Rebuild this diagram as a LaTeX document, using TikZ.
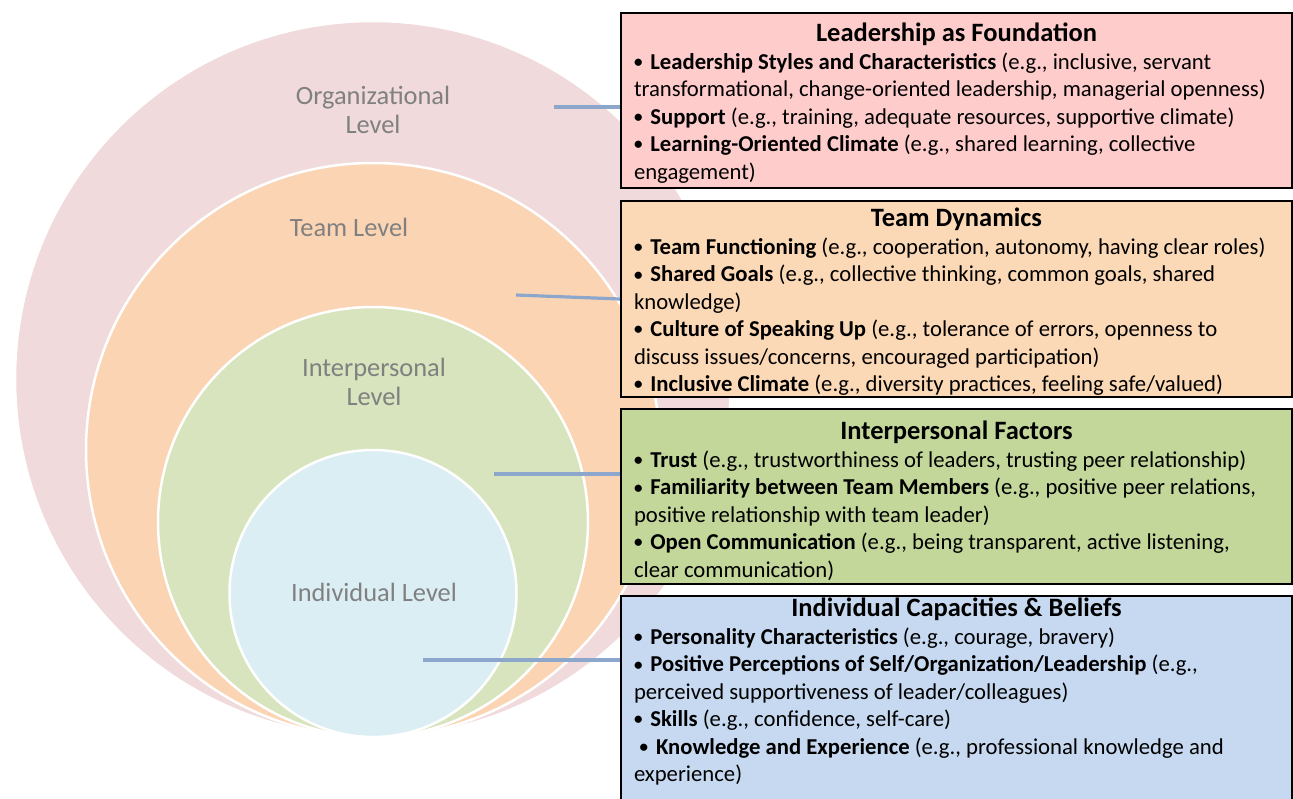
\documentclass[tikz,border=0pt]{standalone}
\usepackage{fontspec}
\setmainfont{Carlito}

\definecolor{orgfill}{RGB}{240,218,219}
\definecolor{teamfill}{RGB}{251,212,180}
\definecolor{interfill}{RGB}{215,228,189}
\definecolor{indfill}{RGB}{219,238,244}
\definecolor{lvgray}{RGB}{128,128,128}
\definecolor{leadbox}{RGB}{255,204,204}
\definecolor{teambox}{RGB}{252,217,182}
\definecolor{interbox}{RGB}{196,215,155}
\definecolor{indbox}{RGB}{198,217,240}
\definecolor{linkblue}{RGB}{140,167,203}

% text block of a factor box: height, strut above the title, title, lines
\newcommand\factortext[4]{%
  \parbox[c][#1][t]{645pt}{%
    \fontsize{26.5}{28.5}\selectfont\bfseries
    \hbox to\hsize{\hfil\rule{0pt}{#2}#3\hfil}%
    \fontsize{22.7}{27.4}\selectfont\mdseries
    \kern1pt
    #4}}
\newcommand\fline[1]{\hbox{#1}}
% small bold bullet followed by a bold heading
\newcommand\bul[1]{\textbf{\raisebox{1.8pt}{\fontsize{17}{17}\selectfont•}\hspace{0.12em} #1}}

\begin{document}
\begin{tikzpicture}[x=1pt,y=-1pt,
  level/.style={circle, draw=white, line width=2.5pt, inner sep=0pt, minimum size=#1},
  levellabel/.style={text=lvgray, font=\fontsize{26.4}{29}\selectfont, align=center},
  factorbox/.style={draw=black, line width=2pt, anchor=north west, inner xsep=13pt, inner ysep=0pt},
  link/.style={draw=linkblue, line width=3.2pt}]
\useasboundingbox (0,0) rectangle (1293,798);

% nested levels, all touching at the bottom
\node[level=716pt, fill=orgfill]   (org)   at (373,379)   {};
\node[level=574pt, fill=teamfill]  (team)  at (373,450)   {};
\node[level=430pt, fill=interfill] (inter) at (373,522)   {};
\node[level=287pt, fill=indfill]   (ind)   at (373,593.5) {};

\node[levellabel] (orglabel)   at (373,110) {Organizational\\Level};
\node[levellabel, anchor=base] (teamlabel) at (349,236) {Team Level};
\node[levellabel] (interlabel) at (374,382) {Interpersonal\\Level};
\node[levellabel, anchor=base] (indlabel) at (374,601) {Individual Level};

% factor boxes
\node[factorbox, fill=leadbox] (lead) at (620,12) {\factortext{175pt}{28pt}{Leadership as Foundation}{%
  \fline{\bul{Leadership Styles and Characteristics} (e.g., inclusive, servant}
  \fline{transformational, change-oriented leadership, managerial openness)}
  \fline{\bul{Support} (e.g., training, adequate resources, supportive climate)}
  \fline{\bul{Learning-Oriented Climate} (e.g., shared learning, collective}
  \fline{engagement)}}};

\node[factorbox, fill=teambox] (dyn) at (620,200) {\factortext{196pt}{25pt}{Team Dynamics}{%
  \fline{\bul{Team Functioning} (e.g., cooperation, autonomy, having clear roles)}
  \fline{\bul{Shared Goals} (e.g., collective thinking, common goals, shared}
  \fline{knowledge)}
  \fline{\bul{Culture of Speaking Up} (e.g., tolerance of errors, openness to}
  \fline{discuss issues/concerns, encouraged participation)}
  \fline{\bul{Inclusive Climate} (e.g., diversity practices, feeling safe/valued)}}};

\node[factorbox, fill=interbox] (fact) at (620,408) {\factortext{175pt}{30pt}{Interpersonal Factors}{%
  \fline{\bul{Trust} (e.g., trustworthiness of leaders, trusting peer relationship)}
  \fline{\bul{Familiarity between Team Members} (e.g., positive peer relations,}
  \fline{positive relationship with team leader)}
  \fline{\bul{Open Communication} (e.g., being transparent, active listening,}
  \fline{clear communication)}}};

\node[factorbox, fill=indbox] (cap) at (620,595) {\factortext{220pt}{20pt}{Individual Capacities \& Beliefs}{%
  \fline{\bul{Personality Characteristics} (e.g., courage, bravery)}
  \fline{\bul{Positive Perceptions of Self/Organization/Leadership} (e.g.,}
  \fline{perceived supportiveness of leader/colleagues)}
  \fline{\bul{Skills} (e.g., confidence, self-care)}
  \fline{\hspace{0.25em}\bul{Knowledge and Experience} (e.g., professional knowledge and}
  \fline{experience)}}};

% connectors from each level to its box
\coordinate (orgend)   at (554,107);
\coordinate (teamend)  at (516,295);
\coordinate (interend) at (494,474);
\coordinate (indend)   at (423,660);
\draw[link] (orgend) -- (orgend -| lead.west);
\draw[link] (teamend) -- (dyn.west);
\draw[link] (interend) -- (interend -| fact.west);
\draw[link] (indend) -- (indend -| cap.west);
\end{tikzpicture}
\end{document}
